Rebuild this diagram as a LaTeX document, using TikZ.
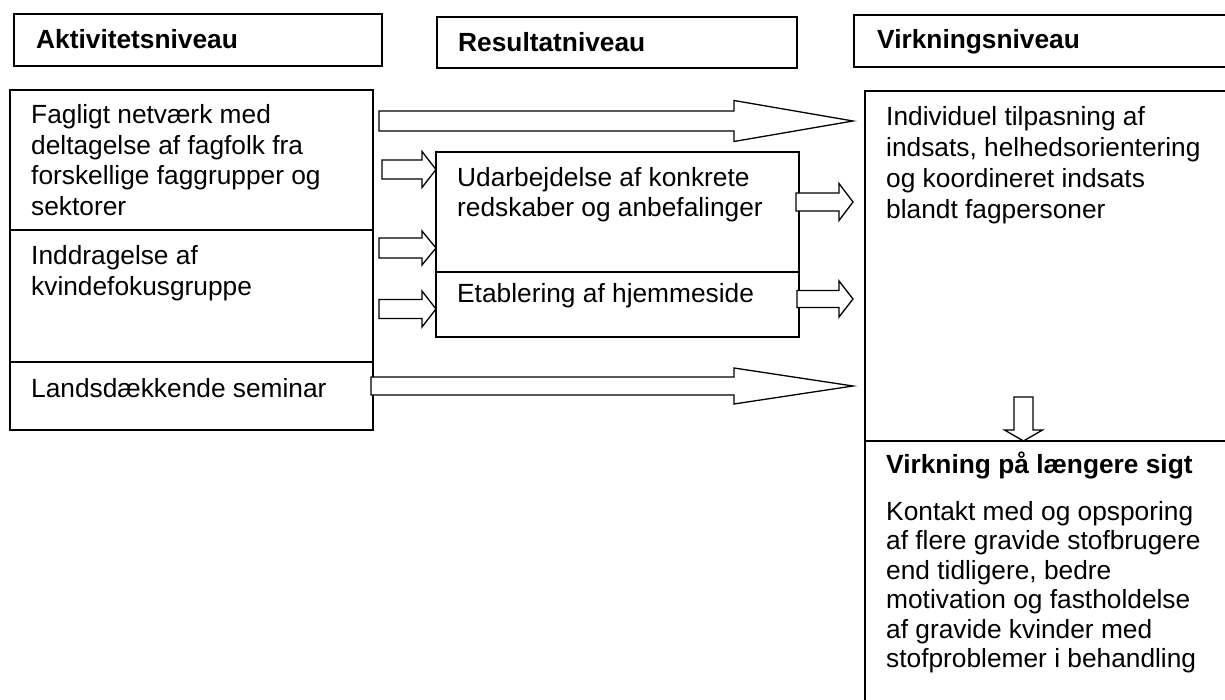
\documentclass[tikz,border=0pt]{standalone}
\usepackage{fontspec}
\setmainfont{Liberation Sans}
\usetikzlibrary{calc}
\tikzset{
  box/.style={draw, line width=1.5pt, anchor=north west, inner sep=0pt, outer sep=0pt},
  txt/.style={anchor=base west, inner sep=0pt, align=left, font=\fontsize{26.3}{30.5}\selectfont},
  btxt/.style={anchor=base west, inner sep=0pt, align=left, font=\fontsize{26.3}{30.5}\selectfont\bfseries},
  blockarrow/.style={draw, fill=white, line width=1.3pt, line join=miter}
}
% #1 start, #2 tip, #3 head length, #4 shaft half width, #5 head half width
\newcommand\harrow[5]{\draw[blockarrow] let \p1=(#1), \p2=(#2) in
  (\x1,\y1+#4) -- (\x2-#3,\y1+#4) -- (\x2-#3,\y1+#5) -- (\x2,\y1) -- (\x2-#3,\y1-#5) -- (\x2-#3,\y1-#4) -- (\x1,\y1-#4) -- cycle;}
\newcommand\varrow[5]{\draw[blockarrow] let \p1=(#1), \p2=(#2) in
  (\x1-#4,\y1) -- (\x1-#4,\y2+#3) -- (\x1-#5,\y2+#3) -- (\x1,\y2) -- (\x1+#5,\y2+#3) -- (\x1+#4,\y2+#3) -- (\x1+#4,\y1) -- cycle;}
\begin{document}
\begin{tikzpicture}[x=1pt,y=-1pt]
\clip (0,0) rectangle (1225,700);
\fill[white] (0,0) rectangle (1225,700);

% headers
\node[box, minimum width=368pt, minimum height=52pt] (h1) at (14,14) {};
\node[box, minimum width=360pt, minimum height=51pt] (h2) at (437,17) {};
\node[box, minimum width=380pt, minimum height=52pt] (h3) at (854,15) {};
\node[btxt] (t1) at (36,49) {Aktivitetsniveau};
\node[btxt] (t2) at (458,52) {Resultatniveau};
\node[btxt] (t3) at (877,49) {Virkningsniveau};

% activity column (text nodes are placed at the baseline of their last line)
\node[box, minimum width=363pt, minimum height=140pt] (act1) at (10,90) {};
\node[box, minimum width=363pt, minimum height=132pt] (act2) at (10,230) {};
\node[box, minimum width=363pt, minimum height=68pt] (act3) at (10,362) {};
\node[txt] (ta1) at (31,215.5) {Fagligt netværk med\\deltagelse af fagfolk fra\\forskellige faggrupper og\\sektorer};
\node[txt] (ta2) at (31,295.5) {Inddragelse af\\kvindefokusgruppe};
\node[txt] (ta3) at (31,397) {Landsdækkende seminar};

% result column
\node[box, minimum width=363pt, minimum height=120pt] (res1) at (436,152) {};
\node[box, minimum width=363pt, minimum height=65pt] (res2) at (436,272) {};
\node[txt, font=\fontsize{26.3}{29.5}\selectfont] (tr1) at (457,216.5) {Udarbejdelse af konkrete\\redskaber og anbefalinger};
\node[txt] (tr2) at (457,303) {Etablering af hjemmeside};

% effect column
\node[box, minimum width=380pt, minimum height=350pt] (virk1) at (865,91) {};
\node[box, minimum width=380pt, minimum height=280pt] (virk2) at (865,441) {};
\node[txt, font=\fontsize{26.3}{31}\selectfont] (tv1) at (886,219) {Individuel tilpasning af\\indsats, helhedsorientering\\og koordineret indsats\\blandt fagpersoner};
\node[btxt] (tv2) at (886,473) {Virkning på længere sigt};
\node[txt, font=\fontsize{26.3}{29.5}\selectfont] (tv3) at (886,667.5) {Kontakt med og opsporing\\af flere gravide stofbrugere\\end tidligere, bedre\\motivation og fastholdelse\\af gravide kvinder med\\stofproblemer i behandling};

% arrow endpoints
\coordinate (b1s) at (379,121);
\coordinate (b1t) at (853,121);
\coordinate (b2s) at (371,386);
\coordinate (b2t) at (853,386);
\coordinate (s1s) at (382,169.5);
\coordinate (s2s) at (379,248);
\coordinate (s3s) at (379,309);
\coordinate (r1s) at (796,202);
\coordinate (r1t) at (853,202);
\coordinate (r2s) at (797,299);
\coordinate (r2t) at (853,299);
\coordinate (d1s) at (1023.5,397);

\harrow{b1s}{b1t}{119pt}{10pt}{20.5pt}
\harrow{b2s}{b2t}{119pt}{9pt}{18pt}
\harrow{s1s}{s1s -| res1.west}{14pt}{9.5pt}{18pt}
\harrow{s2s}{s2s -| res1.west}{14pt}{10pt}{17pt}
\harrow{s3s}{s3s -| res1.west}{14pt}{9.5pt}{18pt}
\harrow{r1s}{r1t}{14pt}{9pt}{18.5pt}
\harrow{r2s}{r2t}{14pt}{8.5pt}{18pt}
\varrow{d1s}{d1s |- virk2.north}{11pt}{9.5pt}{19pt}
\end{tikzpicture}
\end{document}
